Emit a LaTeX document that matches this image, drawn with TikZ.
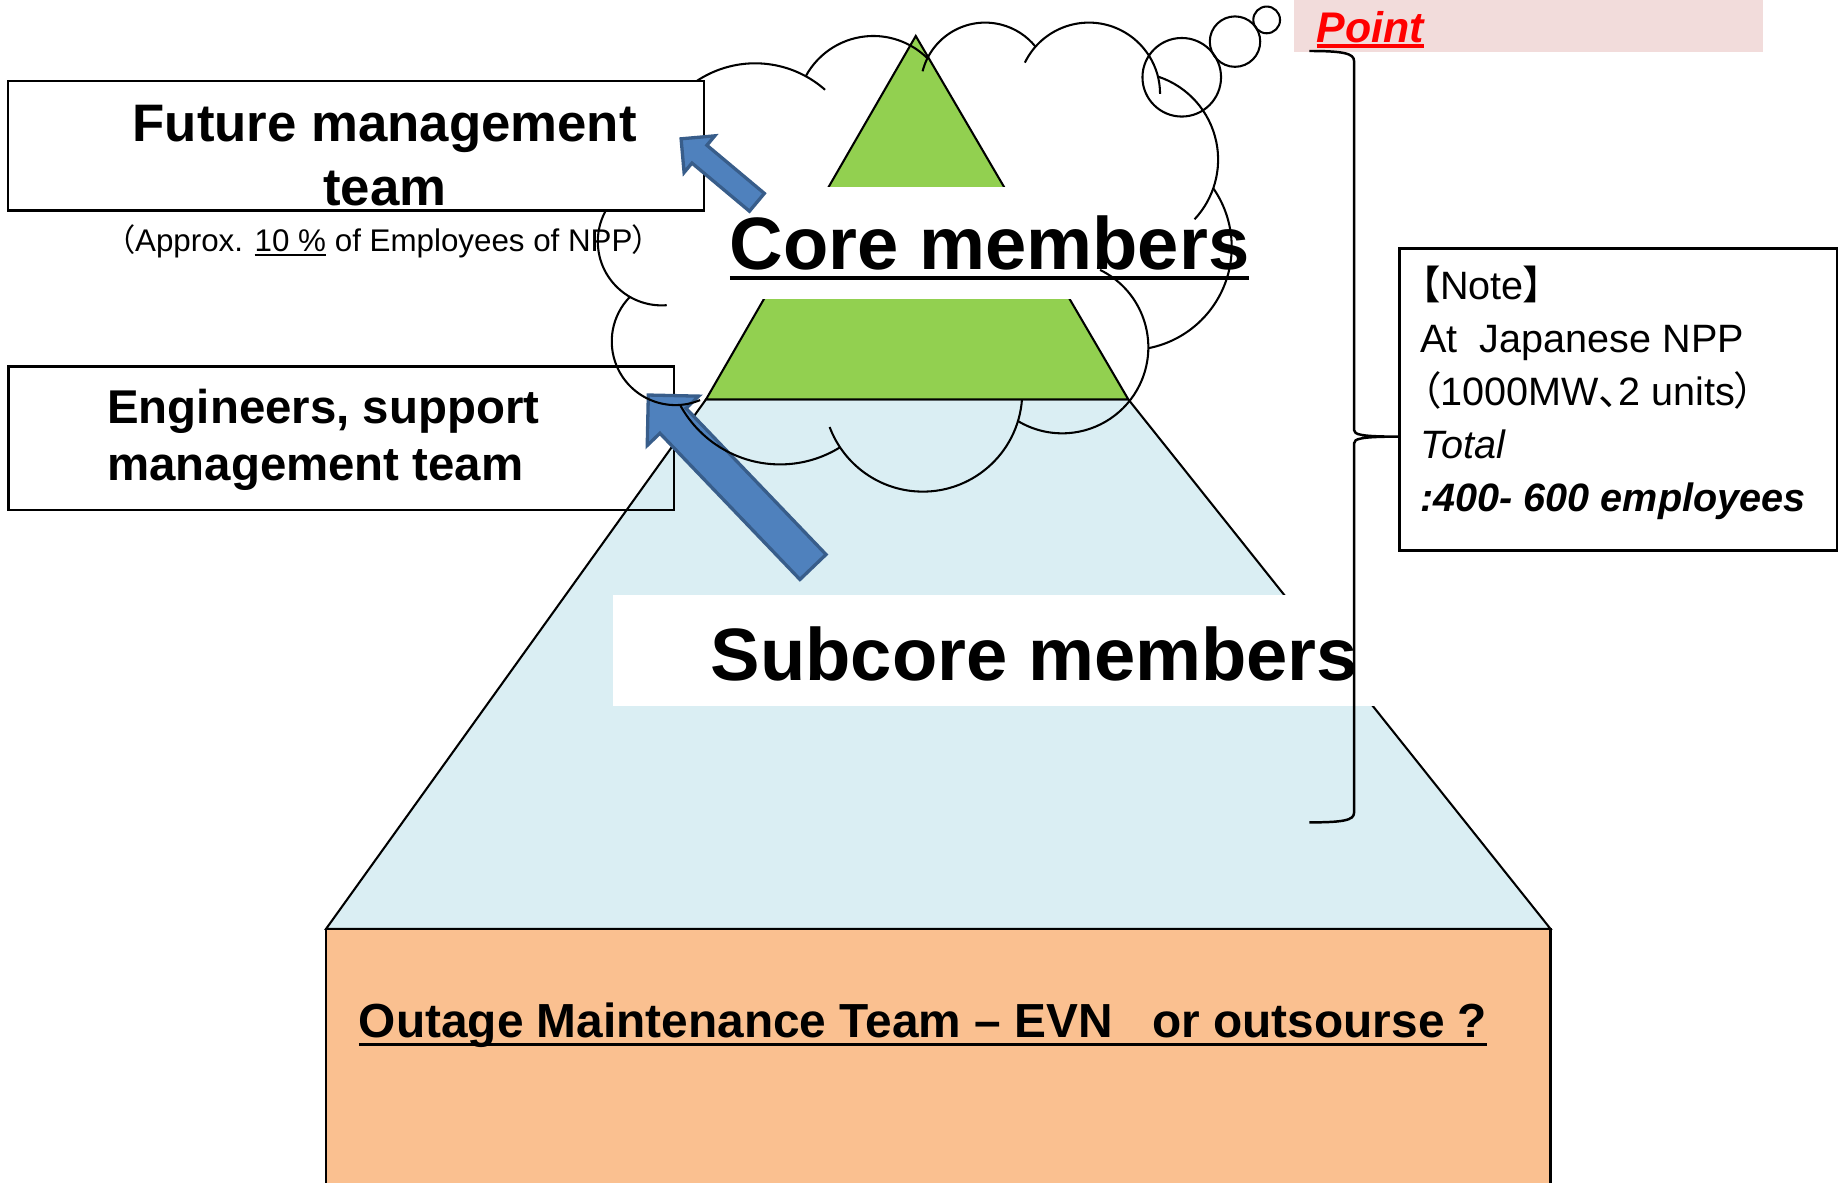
\documentclass[tikz,border=0pt]{standalone}
\usepackage{fontspec}
\setmainfont{Liberation Sans}
\newfontfamily\cjk[RawFeature=+palt]{Noto Sans CJK JP}
\usetikzlibrary{shapes.arrows}
\definecolor{coregreen}{RGB}{146,208,80}
\definecolor{subblue}{RGB}{218,238,243}
\definecolor{outageorange}{RGB}{250,192,144}
\definecolor{pointpink}{RGB}{242,220,219}
\definecolor{arrowblue}{RGB}{79,129,189}
\definecolor{arrowedge}{RGB}{56,93,138}
% text with a rule below it: gap, thickness, text
\newcommand{\ultext}[3]{\sbox0{#3}\rlap{\usebox0}\rule[-\dimexpr#1+#2\relax]{\wd0}{#2}}
\tikzset{
  % boxes at the left and the note
  teambox/.style={draw, line width=0.6pt, inner sep=0pt},
  % cloud outline
  cloudline/.style={line width=0.5pt},
  % blue block arrows
  blockarrow/.style={single arrow, fill=arrowblue, draw=arrowedge,
    line width=0.8pt, inner xsep=0pt, anchor=tip},
  % texts
  layertext/.style={font=\fontsize{18}{21}\selectfont\bfseries, inner sep=0pt},
  teamtext/.style={font=\fontsize{12.8}{15.5}\selectfont\bfseries, inner sep=0pt},
  engtext/.style={font=\fontsize{11.5}{13.7}\selectfont\bfseries, inner sep=0pt},
  notetext/.style={font=\fontsize{9.6}{12.86}\selectfont, inner sep=0pt},
}

\begin{document}
\begin{tikzpicture}
  \useasboundingbox (0,0) rectangle (15.68,10.08);
  \clip (0,0) rectangle (15.68,10.08);

  % pyramid
  \filldraw[fill=subblue, line width=0.5pt] (6.02,6.675) -- (2.78,2.16) -- (13.22,2.16) -- (9.62,6.675) -- cycle;
  \filldraw[fill=coregreen, line width=0.5pt] (7.808,9.773) -- (6.02,6.675) -- (9.62,6.675) -- cycle;
  \filldraw[fill=outageorange, line width=0.6pt] (2.78,-0.3) rectangle (13.22,2.16);

  % white bands behind the layer names
  \fill[white] (6.2,7.53) rectangle (10.7,8.488);
  \fill[white] (5.23,4.06) rectangle (11.72,5.01);

  % Point
  \fill[pointpink] (11.033,9.64) rectangle (15.033,10.1);
  \node[anchor=base west, inner sep=0pt, text=red,
        font=\fontsize{10.4}{12}\selectfont\bfseries\itshape] (point) at (11.218,9.715)
        {\ultext{0.4pt}{0.85pt}{Point}};

  % engineers box and its arrow
  \node[teambox, minimum width=5.677cm, minimum height=1.223cm] (engbox) at (2.909,6.3425) {};
  \node[blockarrow, minimum height=2.03cm, minimum width=0.58cm, inner ysep=0.14cm,
        single arrow head extend=0.15cm, rotate=133.76] (engarrow) at (5.514,6.726) {};

  % cloud
  \foreach \cx/\cy/\r/\a/\b in {
      6.439/8.641/0.899/140/48.5,
      7.446/9.118/0.655/151.6/45.2,
      8.400/9.336/0.551/165.7/38.9,
      9.284/9.280/0.607/154/0,
      9.641/8.719/0.745/71.8/-43.1,
      9.624/7.973/0.878/34.8/-79.0,
      9.057/7.119/0.734/63.9/-121.1,
      7.868/6.736/0.848/-4.1/-159.5,
      6.651/7.090/0.970/-58.2/-151.5,
      5.759/7.169/0.543/-67.2/-224.5,
      5.642/8.021/0.545/-85.5/-240}
    \draw[cloudline] (\cx,\cy) ++(\a:\r) arc[start angle=\a, end angle=\b, radius=\r];
  \draw[cloudline] (10.076,9.421) circle[radius=0.335];
  \draw[cloudline] (10.53,9.725) circle[radius=0.215];
  \draw[cloudline] (10.80,9.91) circle[radius=0.114];

  % future management box and its arrow
  \node[teambox, fill=white, minimum width=5.932cm, minimum height=1.106cm] (futbox) at (3.036,8.837) {};
  \node[blockarrow, minimum height=0.843cm, minimum width=0.38cm, inner ysep=0.085cm,
        single arrow head extend=0.105cm, rotate=140.06] (futarrow) at (5.792,8.909) {};

  % layer names
  \node[layertext, anchor=base] (core) at (8.438,7.784) {\ultext{1.6pt}{1.1pt}{Core members}};
  \node[layertext, anchor=base] (subcore) at (8.82,4.28) {Subcore members};
  \node[anchor=base west, inner sep=0pt, font=\fontsize{11.6}{14}\selectfont\bfseries] (outage) at (3.053,1.235)
    {\ultext{1.4pt}{0.7pt}{Outage Maintenance Team – EVN~~~or outsourse ?}};

  % team texts
  \node[teamtext, anchor=north, align=center] (futtext) at (3.28,9.187) {Future management\\team};
  \node[anchor=base, inner sep=0pt, font=\fontsize{7.6}{9}\selectfont] (approx) at (3.273,7.934)
    {{\cjk （}Approx. \ultext{0.6pt}{0.45pt}{10 \%} of Employees of NPP{\cjk ）}};
  \node[engtext, anchor=north west, align=left] (engtext) at (0.908,6.766) {Engineers, support\\management team};

  % note with brace
  \coordinate (brtop) at (11.164,9.645);
  \coordinate (brbot) at (11.164,3.068);
  \coordinate (brtip) at (11.932,6.357);
  \draw[line width=0.6pt] (brtop) .. controls (11.45,9.645) and (11.545,9.625) .. (11.545,9.56)
    -- (11.545,6.413) .. controls (11.545,6.375) and (11.60,6.357) .. (brtip)
    .. controls (11.60,6.357) and (11.545,6.339) .. (11.545,6.30)
    -- (11.545,3.15) .. controls (11.545,3.085) and (11.45,3.068) .. (brbot);
  \node[teambox, minimum width=3.733cm, minimum height=2.578cm] (notebox) at (13.798,6.674) {};
  \node[notetext, anchor=north west, align=left] (note) at (12.105,7.815)
    {{\cjk 【}Note{\cjk 】}\\
     At\ \ Japanese NPP\\
     {\cjk （}1000MW{\cjk 、}2 units{\cjk ）}\\
     \textit{Total}\\
     \textbf{\textit{:400- 600 employees}}};
\end{tikzpicture}
\end{document}
